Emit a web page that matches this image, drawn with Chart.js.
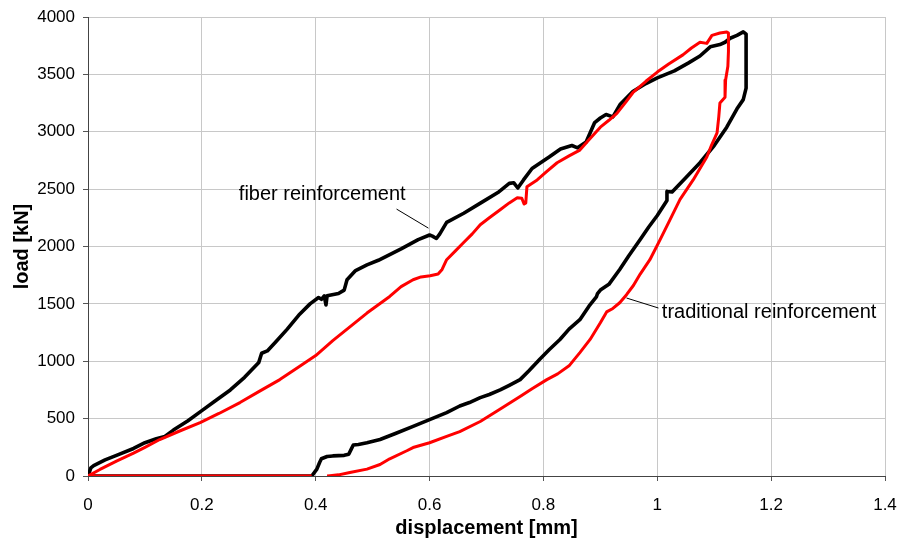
<!DOCTYPE html>
<html>
<head>
<meta charset="utf-8">
<title>load - displacement</title>
<script src="https://cdn.jsdelivr.net/npm/chart.js@4/dist/chart.umd.min.js"></script>
<style>
  html, body { margin: 0; padding: 0; background: #fff; }
  #wrap { width: 901px; height: 545px; }
</style>
</head>
<body>
<div id="wrap"><canvas id="chart" width="901" height="545"></canvas></div>
<script>
(function () {
  'use strict';

  // fiber reinforcement (black): loading then unloading
  const fiberX = [
    0, 0.005, 0.01, 0.03, 0.05, 0.08, 0.1, 0.12, 0.135, 0.15, 0.175, 0.2, 0.225, 0.25, 0.275,
    0.3, 0.305, 0.315, 0.33, 0.35, 0.37, 0.39, 0.405, 0.41, 0.415, 0.418, 0.42, 0.44, 0.45, 0.455,
    0.47, 0.49, 0.51, 0.55, 0.58, 0.6, 0.605, 0.612, 0.618, 0.63, 0.66, 0.69, 0.72, 0.74, 0.748,
    0.755, 0.765, 0.78, 0.81, 0.83, 0.85, 0.86, 0.875, 0.89, 0.9, 0.91, 0.922, 0.935, 0.957, 0.98,
    1.0, 1.03, 1.055, 1.075, 1.093, 1.11, 1.119, 1.128, 1.14, 1.151, 1.156, 1.156, 1.156,
    1.151, 1.14, 1.122, 1.1, 1.075, 1.05, 1.026, 1.017, 1.017, 1.0, 0.985, 0.97, 0.95, 0.934,
    0.915, 0.9, 0.895, 0.893, 0.88, 0.864, 0.845, 0.829, 0.81, 0.794, 0.775, 0.759, 0.74, 0.724,
    0.705, 0.689, 0.67, 0.653, 0.63, 0.6, 0.57, 0.54, 0.513, 0.49, 0.475, 0.466, 0.462, 0.458,
    0.45, 0.43, 0.42, 0.41, 0.407, 0.402, 0.393, 0
  ];
  const fiberY = [
    0, 70, 90, 140, 180, 240, 290, 325, 345, 400, 480, 570, 660, 750, 860,
    990, 1070, 1090, 1170, 1280, 1400, 1500, 1555, 1540, 1570, 1490, 1570, 1590, 1620, 1710,
    1790, 1840, 1880, 1980, 2060, 2100, 2090, 2070, 2110, 2210, 2290, 2380, 2470, 2550, 2555,
    2510, 2580, 2680, 2780, 2850, 2880, 2860, 2910, 3080, 3120, 3150, 3130, 3240, 3350, 3420,
    3470, 3530, 3600, 3660, 3740, 3760, 3780, 3815, 3840, 3870, 3850, 3600, 3380,
    3280, 3200, 3040, 2880, 2730, 2600, 2475, 2480, 2400, 2270, 2170, 2060, 1920, 1800,
    1670, 1620, 1590, 1560, 1480, 1362, 1280, 1190, 1100, 1020, 920, 840, 790, 750,
    710, 683, 640, 610, 553, 492, 430, 370, 318, 290, 275, 270, 230, 190,
    180, 175, 170, 150, 120, 60, 0, 0
  ];

  // traditional reinforcement (red): baseline, loading, unloading
  const tradX = [
    0.393, 0, 0.021, 0.05, 0.08, 0.1, 0.126, 0.16, 0.197, 0.23, 0.267, 0.3, 0.337, 0.37,
    0.4, 0.43, 0.46, 0.49, 0.53, 0.55, 0.571, 0.585, 0.601, 0.615, 0.622, 0.63, 0.645, 0.659,
    0.675, 0.689, 0.705, 0.724, 0.74, 0.754, 0.762, 0.766, 0.769, 0.771, 0.789, 0.805, 0.824,
    0.845, 0.864, 0.88, 0.9, 0.915, 0.929, 0.945, 0.957, 0.98, 1.0, 1.02, 1.045, 1.06, 1.075,
    1.087, 1.096, 1.11, 1.122, 1.125, 1.125, 1.124, 1.12, 1.119, 1.11, 1.108, 1.105, 1.095,
    1.087, 1.075, 1.063, 1.04, 1.022, 1.005, 0.987, 0.97, 0.958, 0.946, 0.934, 0.922, 0.911,
    0.9, 0.882, 0.864, 0.845, 0.825, 0.806, 0.78, 0.759, 0.72, 0.689, 0.653, 0.63, 0.6, 0.571,
    0.56, 0.53, 0.513, 0.49, 0.46, 0.44, 0.425, 0.42
  ];
  const tradY = [
    0, 0, 57, 130, 200, 250, 318, 390, 465, 545, 640, 735, 840, 950,
    1050, 1180, 1300, 1420, 1565, 1650, 1710, 1735, 1745, 1760, 1800, 1885, 1960, 2030,
    2110, 2190, 2250, 2320, 2380, 2425, 2420, 2370, 2380, 2520, 2580, 2650, 2730,
    2790, 2840, 2930, 3040, 3100, 3160, 3260, 3340, 3440, 3520, 3590, 3670, 3730, 3780,
    3770, 3840, 3860, 3870, 3860, 3700, 3570, 3450, 3300, 3250, 3130, 2990, 2880,
    2780, 2680, 2580, 2410, 2230, 2060, 1885, 1760, 1660, 1580, 1510, 1460, 1430,
    1335, 1190, 1075, 960, 890, 840, 760, 692, 570, 475, 387, 345, 290, 248,
    220, 150, 100, 60, 30, 10, 3, 0
  ];

  const xTicks = [0, 0.2, 0.4, 0.6, 0.8, 1, 1.2, 1.4];
  const xTickLabels = ['0', '0.2', '0.4', '0.6', '0.8', '1', '1.2', '1.4'];
  const yTicks = [0, 500, 1000, 1500, 2000, 2500, 3000, 3500, 4000];
  const yTickLabels = ['0', '500', '1000', '1500', '2000', '2500', '3000', '3500', '4000'];

  // callouts in data units: text anchor and leader line end points
  const callouts = [
    { text: 'fiber reinforcement', at: [0.265, 2450], from: [0.542, 2326], to: [0.598, 2160] },
    { text: 'traditional reinforcement', at: [1.008, 1423], from: [0.946, 1551], to: [1.002, 1464] }
  ];

  function toPoints(xs, ys) {
    return xs.map((x, i) => ({ x: x, y: ys[i] }));
  }

  const FONT = "'Liberation Sans', Arial, sans-serif";

  const calloutPlugin = {
    id: 'callouts',
    afterDatasetsDraw(chart) {
      const ctx = chart.ctx;
      const xs = chart.scales.x;
      const ys = chart.scales.y;
      ctx.save();
      ctx.strokeStyle = '#000';
      ctx.lineWidth = 1;
      ctx.fillStyle = '#000';
      ctx.font = '20px ' + FONT;
      ctx.textBaseline = 'middle';
      ctx.textAlign = 'left';
      callouts.forEach(c => {
        ctx.beginPath();
        ctx.moveTo(xs.getPixelForValue(c.from[0]), ys.getPixelForValue(c.from[1]));
        ctx.lineTo(xs.getPixelForValue(c.to[0]), ys.getPixelForValue(c.to[1]));
        ctx.stroke();
        ctx.fillText(c.text, xs.getPixelForValue(c.at[0]), ys.getPixelForValue(c.at[1]));
      });
      ctx.restore();
    }
  };

  const tickFont = { family: FONT, size: 17 };
  const titleFont = { family: FONT, size: 20, weight: 'bold' };

  new Chart(document.getElementById('chart').getContext('2d'), {
    type: 'scatter',
    data: {
      datasets: [
        {
          label: 'fiber reinforcement',
          data: toPoints(fiberX, fiberY),
          showLine: true,
          borderColor: '#000000',
          backgroundColor: '#000000',
          borderWidth: 3.6,
          borderJoinStyle: 'round',
          pointRadius: 0,
          tension: 0,
          order: 2
        },
        {
          label: 'traditional reinforcement',
          data: toPoints(tradX, tradY),
          showLine: true,
          borderColor: '#ff0000',
          backgroundColor: '#ff0000',
          borderWidth: 3,
          borderJoinStyle: 'round',
          pointRadius: 0,
          tension: 0,
          order: 1
        }
      ]
    },
    options: {
      responsive: false,
      animation: false,
      layout: { padding: { top: 17, right: 16, left: 0, bottom: 0 } },
      plugins: {
        legend: { display: false },
        tooltip: { enabled: false }
      },
      scales: {
        x: {
          type: 'linear',
          min: 0,
          max: 1.4,
          afterBuildTicks: s => { s.ticks = xTicks.map(v => ({ value: v })); },
          afterFit: s => { s.height = 69; s.paddingLeft = 0; s.paddingRight = 0; },
          ticks: {
            color: '#000',
            font: tickFont,
            padding: 14,
            maxRotation: 0,
            callback: (v, i) => xTickLabels[i]
          },
          grid: { color: '#c8c8c8', lineWidth: 1, tickLength: 5, tickColor: '#555' },
          border: { color: '#444', width: 1 },
          title: {
            display: true,
            text: 'displacement [mm]',
            color: '#000',
            font: titleFont,
            padding: { top: 0, bottom: 5 }
          }
        },
        y: {
          type: 'linear',
          min: 0,
          max: 4000,
          afterBuildTicks: s => { s.ticks = yTicks.map(v => ({ value: v })); },
          afterFit: s => { s.width = 88; s.paddingTop = 0; s.paddingBottom = 0; },
          ticks: {
            color: '#000',
            font: tickFont,
            padding: 8,
            callback: (v, i) => yTickLabels[i]
          },
          grid: { color: '#c8c8c8', lineWidth: 1, tickLength: 5, tickColor: '#555' },
          border: { color: '#444', width: 1 },
          title: {
            display: true,
            text: 'load [kN]',
            color: '#000',
            font: titleFont,
            padding: { top: 10, bottom: 0 }
          }
        }
      }
    },
    plugins: [calloutPlugin]
  });
})();
</script>
</body>
</html>
